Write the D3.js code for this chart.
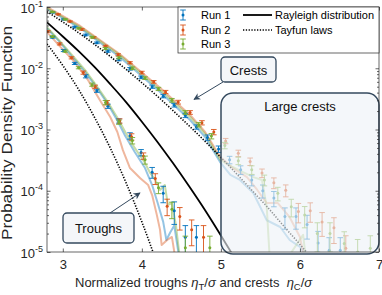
<!DOCTYPE html>
<html>
<head>
<meta charset="utf-8">
<script src="https://d3js.org/d3.v7.min.js"></script>
<style>
  body { margin: 0; background: #fff; }
  svg { font-family: "Liberation Sans", Arial, Helvetica, sans-serif; }
</style>
</head>
<body>
<svg id="chart"></svg>
<script>
// ---- data ----
const xTicks = [3, 4, 5, 6, 7];
const yTicks = [1e-5, 1e-4, 1e-3, 1e-2, 1e-1];
const yExponents = ["-5", "-4", "-3", "-2", "-1"];

const runNames = ["Run 1", "Run 2", "Run 3"];
const theoryNames = ["Rayleigh distribution", "Tayfun laws"];

// theory curves
const rayleighX = [2.8, 3.0, 3.2, 3.4, 3.6, 3.8, 4.0, 4.2, 4.4, 4.6, 4.8, 5.0, 5.2];
const rayleighY = [5.6e-2, 3.3e-2, 1.9e-2, 1.05e-2, 5.5e-3, 2.8e-3, 1.34e-3, 6.2e-4, 2.75e-4, 1.17e-4, 4.8e-5, 1.86e-5, 7.0e-6];

const tayfunCrestX = [2.8, 3.0, 3.2, 3.4, 3.6, 3.8, 4.0, 4.2, 4.4, 4.6, 4.8, 5.0, 5.2, 5.4, 5.6, 5.8, 6.0, 6.2];
const tayfunCrestY = [8.4e-2, 5.7e-2, 3.8e-2, 2.46e-2, 1.56e-2, 9.6e-3, 5.8e-3, 3.46e-3, 2.0e-3, 1.14e-3, 6.4e-4, 3.5e-4, 1.88e-4, 9.9e-5, 5.2e-5, 2.6e-5, 1.33e-5, 6.6e-6];

const tayfunTroughX = [2.8, 3.0, 3.2, 3.4, 3.6, 3.8, 4.0, 4.1, 4.2];
const tayfunTroughY = [2.5e-2, 1.11e-2, 4.5e-3, 1.59e-3, 5.0e-4, 1.35e-4, 3.1e-5, 1.4e-5, 6.0e-6];

// empirical lines [x, pdf]
const troughLine1 = [[2.80,4.5e-2],[2.96,2.7e-2],[3.13,1.47e-2],[3.28,8.7e-3],[3.43,4.8e-3],[3.57,2.6e-3],[3.70,1.32e-3],[3.79,7.8e-4],[3.91,4.3e-4],[4.04,2.35e-4],[4.13,1.24e-4],[4.20,6.3e-5],[4.27,3.1e-5],[4.31,1.57e-5],[4.36,2.1e-5],[4.41,2.7e-5],[4.48,7e-6]];
const troughLine2 = [[2.80,3.9e-2],[2.96,2.3e-2],[3.15,1.26e-2],[3.32,6.4e-3],[3.47,3.0e-3],[3.60,1.6e-3],[3.69,9.1e-4],[3.76,4.6e-4],[3.85,2.35e-4],[3.98,1.6e-4],[4.08,1.24e-4],[4.13,8.5e-5],[4.19,4.0e-5],[4.23,2.3e-5],[4.25,1.3e-5],[4.32,1.57e-5],[4.38,1.76e-5],[4.43,7e-6]];
const troughLine3 = [[2.80,4.7e-2],[2.96,2.8e-2],[3.13,1.58e-2],[3.28,9.4e-3],[3.43,5.1e-3],[3.57,2.8e-3],[3.70,1.48e-3],[3.79,9.1e-4],[3.91,5.0e-4],[4.04,2.84e-4],[4.10,2.0e-4],[4.17,1.5e-4],[4.23,1.03e-4],[4.29,1.24e-4],[4.33,5.9e-5],[4.38,6.3e-5],[4.43,2.8e-5],[4.48,8e-6]];

const crestLine1 = [[2.80,9.3e-2],[3.22,4.5e-2],[3.72,1.53e-2],[4.23,4.1e-3],[4.61,1.43e-3],[4.80,7.55e-4],[4.99,2.94e-4],[5.12,1.81e-4],[5.24,1.5e-4],[5.41,9.2e-5],[5.58,3.3e-5],[5.75,2.56e-5],[5.87,1.57e-5],[6.00,1.21e-5],[6.10,8e-6]];
const crestLine2 = [[2.80,1.0e-1],[3.22,4.9e-2],[3.72,1.71e-2],[4.23,4.8e-3],[4.61,1.73e-3],[4.80,9.1e-4],[4.99,3.56e-4],[5.15,2.35e-4],[5.33,1.67e-4],[5.46,1.03e-4],[5.58,6.3e-5],[5.72,6.3e-5],[5.87,3.7e-5],[6.00,1.76e-5],[6.05,8.6e-6]];
const crestLine3 = [[2.80,9.6e-2],[3.22,4.7e-2],[3.72,1.64e-2],[4.23,4.4e-3],[4.61,1.6e-3],[4.80,8.5e-4],[4.99,3.2e-4],[5.15,2.44e-4],[5.28,2.02e-4],[5.41,1.67e-4],[5.52,1.5e-4],[5.58,5.4e-5],[5.62,6.9e-6],[5.81,6.9e-6],[6.04,1.9e-5],[6.08,6.9e-6]];

// error-bar markers [x, pdf, relative error]
const troughRun1 = [[2.87,3.2e-2,.03],[3.01,1.95e-2,.04],[3.15,1.2e-2,.04],[3.29,7.4e-3,.06],[3.43,4.3e-3,.06],[3.57,2.4e-3,.08],[3.71,1.38e-3,.08],[3.85,7.9e-4,.12],[3.99,4.2e-4,.12],[4.13,2.0e-4,.2],[4.27,9.1e-5,.3],[4.41,4.7e-5,.4],[4.55,1.74e-5,.55],[4.69,1.74e-5,.55]];
const troughRun2 = [[2.81,4.0e-2,.03],[2.96,2.5e-2,.04],[3.11,1.48e-2,.04],[3.26,8.5e-3,.06],[3.41,5.0e-3,.06],[3.56,2.75e-3,.08],[3.72,1.38e-3,.08],[3.87,7.6e-4,.12],[4.02,3.7e-4,.12],[4.17,1.58e-4,.2],[4.32,5.6e-5,.3],[4.48,3.8e-5,.4],[4.63,2.3e-5,.45],[4.78,1.74e-5,.55]];
const troughRun3 = [[2.87,3.3e-2,.03],[3.03,1.9e-2,.04],[3.20,1.02e-2,.04],[3.37,5.4e-3,.06],[3.54,2.75e-3,.08],[3.71,1.32e-3,.08],[3.88,6.6e-4,.12],[4.04,3.2e-4,.15],[4.21,1.12e-4,.2],[4.38,5.0e-5,.3],[4.55,1.17e-5,.55],[4.86,1.17e-5,.55]];

const crestRun1 = [[2.87,8.2e-2,.02],[3.01,6.3e-2,.02],[3.15,4.7e-2,.03],[3.29,3.5e-2,.03],[3.43,2.6e-2,.03],[3.57,1.9e-2,.04],[3.71,1.38e-2,.04],[3.85,9.8e-3,.05],[3.99,7.1e-3,.05],[4.13,5.0e-3,.06],[4.27,3.5e-3,.06],[4.41,2.5e-3,.07],[4.55,1.7e-3,.08],[4.69,1.1e-3,.08],[4.83,7.4e-4,.1],[4.97,4.8e-4,.12],[5.11,3.2e-4,.14],[5.25,2.2e-4,.16],[5.39,1.5e-4,.2],[5.53,1.0e-4,.24],[5.67,7.6e-5,.28],[5.81,3.8e-5,.38],[5.95,3.8e-5,.38],[6.09,2.8e-5,.42],[6.23,1.4e-5,.55],[6.37,1.07e-5,.6],[6.51,1.07e-5,.6]];
const crestRun2 = [[2.94,7.6e-2,.02],[3.09,5.8e-2,.02],[3.24,4.3e-2,.03],[3.39,3.2e-2,.03],[3.54,2.3e-2,.03],[3.70,1.66e-2,.04],[3.85,1.23e-2,.04],[4.00,8.5e-3,.05],[4.15,6.0e-3,.05],[4.30,4.1e-3,.06],[4.46,2.8e-3,.07],[4.61,1.9e-3,.07],[4.76,1.29e-3,.08],[4.91,9.1e-4,.1],[5.06,6.5e-4,.1],[5.22,4.1e-4,.12],[5.37,3.0e-4,.14],[5.52,1.95e-4,.16],[5.67,1.35e-4,.2],[5.82,1.02e-4,.22],[5.98,4.6e-5,.35],[6.13,4.7e-5,.35],[6.28,3.1e-5,.42],[6.43,2.5e-5,.45],[6.58,1.15e-5,.6]];
const crestRun3 = [[2.87,8.3e-2,.02],[3.03,6.3e-2,.02],[3.20,4.5e-2,.03],[3.37,3.2e-2,.03],[3.54,2.1e-2,.04],[3.71,1.48e-2,.04],[3.88,1.0e-2,.05],[4.04,6.9e-3,.05],[4.21,4.6e-3,.06],[4.38,3.0e-3,.07],[4.55,1.9e-3,.07],[4.72,1.2e-3,.08],[4.88,7.8e-4,.1],[5.05,5.5e-4,.12],[5.22,3.1e-4,.14],[5.39,2.2e-4,.16],[5.55,1.5e-4,.2],[5.72,9.1e-5,.25],[5.89,5.5e-5,.32],[6.06,4.0e-5,.38],[6.22,2.0e-5,.5],[6.38,2.0e-5,.5],[6.56,1.38e-5,.55],[6.73,1.0e-5,.6],[6.89,1.15e-5,.6]];

// ---- drawing ----
const W = 382, H = 295;
const colors = ["#0072BD", "#D95319", "#77AC30"];
const axisColor = "#262626";
const boxStroke = "#34495e";

const x = d3.scaleLinear().domain([2.8, 7]).range([47, 379]);
const y = d3.scaleLog().domain([1e-5, 1e-1]).range([252, 7]);

const svg = d3.select("#chart").attr("width", W).attr("height", H);

const defs = svg.append("defs");
defs.append("clipPath").attr("id", "plotclip")
  .append("rect").attr("x", 47).attr("y", 7).attr("width", 332).attr("height", 245);
defs.append("marker").attr("id", "arrow")
  .attr("viewBox", "0 0 10 10").attr("refX", 9).attr("refY", 5)
  .attr("markerWidth", 7).attr("markerHeight", 7).attr("orient", "auto")
  .append("path").attr("d", "M0,0 L10,5 L0,10 L3,5 z").attr("fill", boxStroke);

const plot = svg.append("g").attr("clip-path", "url(#plotclip)");

const line = d3.line().x(d => x(d[0])).y(d => y(d[1]));
const smooth = d3.line().x(d => x(d[0])).y(d => y(d[1])).curve(d3.curveMonotoneX);

// empirical lines
[[troughLine1, crestLine1], [troughLine2, crestLine2], [troughLine3, crestLine3]].forEach((pair, i) => {
  pair.forEach(dat => {
    plot.append("path").datum(dat).attr("d", line)
      .attr("fill", "none").attr("stroke", colors[i])
      .attr("stroke-opacity", 0.42).attr("stroke-width", 2)
      .attr("stroke-linejoin", "round");
  });
});

// error bars
[[troughRun1, crestRun1], [troughRun2, crestRun2], [troughRun3, crestRun3]].forEach((pair, i) => {
  const g = plot.append("g");
  pair.forEach(dat => {
    const pts = g.selectAll(null).data(dat).enter().append("g");
    pts.append("line")
      .attr("x1", d => x(d[0])).attr("x2", d => x(d[0]))
      .attr("y1", d => y(d[1] * (1 - d[2]))).attr("y2", d => y(d[1] * (1 + d[2])))
      .attr("stroke", colors[i]).attr("stroke-width", 0.9);
    [-1, 1].forEach(s => {
      pts.append("line")
        .attr("x1", d => x(d[0]) - 2.8).attr("x2", d => x(d[0]) + 2.8)
        .attr("y1", d => y(d[1] * (1 + s * d[2]))).attr("y2", d => y(d[1] * (1 + s * d[2])))
        .attr("stroke", colors[i]).attr("stroke-width", 0.9);
    });
    pts.append("circle")
      .attr("cx", d => x(d[0])).attr("cy", d => y(d[1])).attr("r", 1.5)
      .attr("fill", colors[i]);
  });
});

// theory curves
plot.append("path").datum(d3.zip(rayleighX, rayleighY)).attr("d", smooth)
  .attr("fill", "none").attr("stroke", "#000").attr("stroke-width", 1.8);
[d3.zip(tayfunCrestX, tayfunCrestY), d3.zip(tayfunTroughX, tayfunTroughY)].forEach(dat => {
  plot.append("path").datum(dat).attr("d", smooth)
    .attr("fill", "none").attr("stroke", "#000").attr("stroke-width", 1.6)
    .attr("stroke-dasharray", "1.3,1.5");
});

// large crests box (semi transparent over data)
svg.append("rect").attr("x", 221).attr("y", 93).attr("width", 158).attr("height", 161)
  .attr("rx", 12).attr("fill", "#eef2f7").attr("fill-opacity", 0.62)
  .attr("stroke", boxStroke).attr("stroke-width", 1.5);
svg.append("text").attr("x", 300).attr("y", 111).attr("text-anchor", "middle")
  .attr("font-size", 13).attr("fill", "#111").text("Large crests");

// axes frame and ticks
const frame = svg.append("g");
frame.append("rect").attr("x", 47).attr("y", 7).attr("width", 332).attr("height", 245)
  .attr("fill", "none").attr("stroke", axisColor).attr("stroke-width", 0.7);

const minorY = [];
yTicks.slice(0, -1).forEach(t => { for (let k = 2; k <= 9; k++) minorY.push(t * k); });

const axB = frame.append("g").attr("transform", "translate(0,252)")
  .call(d3.axisBottom(x).tickValues(xTicks).tickSize(-3.5).tickSizeOuter(0).tickPadding(8).tickFormat(d3.format("d")));
const axT = frame.append("g").attr("transform", "translate(0,7)")
  .call(d3.axisTop(x).tickValues(xTicks).tickSize(-3.5).tickSizeOuter(0).tickFormat(""));
const axL = frame.append("g").attr("transform", "translate(47,0)")
  .call(d3.axisLeft(y).tickValues(yTicks).tickSize(-3.5).tickSizeOuter(0).tickFormat(""));
const axLm = frame.append("g").attr("transform", "translate(47,0)")
  .call(d3.axisLeft(y).tickValues(minorY).tickSize(-2).tickSizeOuter(0).tickFormat(""));
const axR = frame.append("g").attr("transform", "translate(379,0)")
  .call(d3.axisRight(y).tickValues(yTicks).tickSize(-3.5).tickSizeOuter(0).tickFormat(""));
const axRm = frame.append("g").attr("transform", "translate(379,0)")
  .call(d3.axisRight(y).tickValues(minorY).tickSize(-2).tickSizeOuter(0).tickFormat(""));
[axB, axT, axL, axLm, axR, axRm].forEach(a => {
  a.select(".domain").remove();
  a.selectAll("line").attr("stroke", axisColor).attr("stroke-width", 0.7);
  a.selectAll("text").attr("fill", axisColor).attr("font-size", 13)
    .attr("font-family", "Liberation Sans, Arial, sans-serif");
});

// y tick labels 10^k
const yl = frame.selectAll(".ylab").data(yTicks).enter().append("text")
  .attr("class", "ylab").attr("x", 43).attr("y", d => y(d) + 5.5)
  .attr("text-anchor", "end").attr("fill", axisColor).attr("font-size", 13);
yl.append("tspan").text("10");
yl.append("tspan").attr("dy", -6).attr("font-size", 9).text((d, i) => yExponents[i]);

// axis labels
svg.append("text").attr("transform", "translate(12,133) rotate(-90)")
  .attr("text-anchor", "middle").attr("font-size", 14).attr("fill", axisColor)
  .attr("textLength", 214).attr("lengthAdjust", "spacingAndGlyphs")
  .text("Probability Density Function");

const xl = svg.append("text").attr("x", 75).attr("y", 287)
  .attr("font-size", 13).attr("fill", axisColor);
xl.append("tspan").text("Normalized troughs ");
xl.append("tspan").attr("font-style", "italic").text("\u03b7");
xl.append("tspan").attr("font-size", 9.5).attr("dy", 3).text("T");
xl.append("tspan").attr("dy", -3).text("/");
xl.append("tspan").attr("font-style", "italic").text("\u03c3");
xl.append("tspan").text(" and crests \u00a0");
xl.append("tspan").attr("font-style", "italic").text("\u03b7");
xl.append("tspan").attr("font-size", 9.5).attr("dy", 3).text("C");
xl.append("tspan").attr("dy", -3).text("/");
xl.append("tspan").attr("font-style", "italic").text("\u03c3");

// legend
const lg = svg.append("g");
lg.append("rect").attr("x", 178).attr("y", 7).attr("width", 201).attr("height", 46)
  .attr("fill", "#fff").attr("stroke", axisColor).attr("stroke-width", 0.7);
const rowY = [15, 30, 44];
runNames.forEach((name, i) => {
  const cy = rowY[i], cx = 183;
  lg.append("line").attr("x1", cx).attr("x2", cx).attr("y1", cy - 5).attr("y2", cy + 5)
    .attr("stroke", colors[i]).attr("stroke-width", 0.9);
  [-5, 5].forEach(o => lg.append("line").attr("x1", cx - 2.8).attr("x2", cx + 2.8)
    .attr("y1", cy + o).attr("y2", cy + o).attr("stroke", colors[i]).attr("stroke-width", 0.9));
  lg.append("circle").attr("cx", cx).attr("cy", cy).attr("r", 1.5).attr("fill", colors[i]);
  lg.append("text").attr("x", 201).attr("y", cy + 4).attr("font-size", 11)
    .attr("fill", "#000").text(name);
});
theoryNames.forEach((name, i) => {
  const cy = rowY[i];
  lg.append("line").attr("x1", 243).attr("x2", 272).attr("y1", cy).attr("y2", cy)
    .attr("stroke", "#000").attr("stroke-width", i === 0 ? 1.8 : 1.6)
    .attr("stroke-dasharray", i === 0 ? null : "1.3,1.5");
  lg.append("text").attr("x", 275).attr("y", cy + 4).attr("font-size", 11)
    .attr("fill", "#000").text(name);
});

// annotation boxes with arrows
svg.append("line").attr("x1", 223).attr("y1", 82).attr("x2", 194).attr("y2", 99.5)
  .attr("stroke", boxStroke).attr("stroke-width", 1).attr("marker-end", "url(#arrow)");
svg.append("line").attr("x1", 110).attr("y1", 213).attr("x2", 140).attr("y2", 193)
  .attr("stroke", boxStroke).attr("stroke-width", 1).attr("marker-end", "url(#arrow)");

svg.append("rect").attr("x", 221).attr("y", 57).attr("width", 55).attr("height", 25)
  .attr("rx", 4).attr("fill", "#f4f6f9").attr("stroke", boxStroke).attr("stroke-width", 1.3);
svg.append("text").attr("x", 248.5).attr("y", 74.5).attr("text-anchor", "middle")
  .attr("font-size", 13).attr("fill", "#111").text("Crests");

svg.append("rect").attr("x", 63).attr("y", 213).attr("width", 71).attr("height", 30)
  .attr("rx", 4).attr("fill", "#f4f6f9").attr("stroke", boxStroke).attr("stroke-width", 1.3);
svg.append("text").attr("x", 98.5).attr("y", 233).attr("text-anchor", "middle")
  .attr("font-size", 13).attr("fill", "#111").text("Troughs");
</script>
</body>
</html>
